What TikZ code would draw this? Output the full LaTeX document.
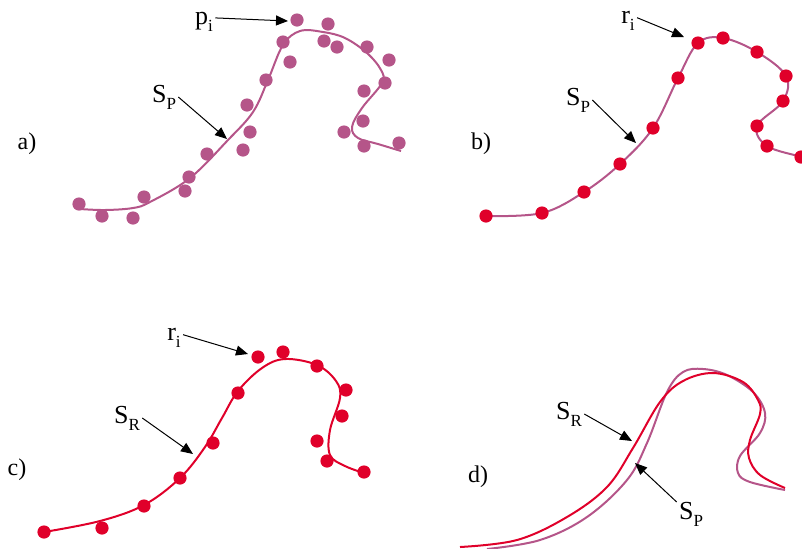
\documentclass[tikz,border=0pt]{standalone}
\usepackage{fontspec}
\setmainfont{Liberation Serif}
\usetikzlibrary{arrows.meta}
\definecolor{mauve}{RGB}{181,85,137}
\definecolor{crimson}{RGB}{224,0,42}
\newcommand{\sublbl}[2]{#1\raisebox{-3.5pt}{\fontsize{8.5}{9}\selectfont #2}}
\begin{document}
\begin{tikzpicture}[x=0.5pt,y=-0.5pt,
  curveP/.style={draw=mauve,line width=1pt},
  curveR/.style={draw=crimson,line width=1pt},
  dotP/.style={fill=mauve},
  dotR/.style={fill=crimson},
  pointer/.style={-{Triangle[length=6pt,width=5pt]},line width=0.5pt},
  lbl/.style={inner sep=1pt,font=\fontsize{13}{15}\selectfont},
  tag/.style={inner sep=0pt,font=\fontsize{12}{14}\selectfont}]
\useasboundingbox (0,0) rectangle (802,548);
% a) noisy points and fitted curve
\draw[curveP] plot[smooth,tension=0.6] coordinates {(80,209) (105,210) (133,208) (150,202) (190,178) (228,140) (253,112) (268,80) (283,45) (300,31) (323,32) (345,38) (367,53) (381,70) (382,83) (362,108) (352,127) (358,138) (378,144) (401,151)};
\foreach \p in {(79,204),(102,216),(133,218),(144,197),(185,191),(189,177),(207,154),(243,150),(250,132),(247,105),(266,80),(290,62),(283,42),(297,20),(328,24),(324,41),(337,47),(367,47),(389,60),(385,83),(364,91),(363,121),(344,132),(364,146),(399,143)}
  \fill[dotP] \p circle[radius=3.3pt];
\node[tag] (ta) at (27,144) {a)};
\node[lbl] (pi) at (204,22) {\sublbl{p}{i}};
\coordinate (pitip) at (288,21);
\draw[pointer] (pi.20) -- (pitip);
\node[lbl] (spa) at (164,97) {\sublbl{S}{P}};
\coordinate (spatip) at (227,139);
\draw[pointer] (spa.east) -- (spatip);
% b) resampled points on the curve
\draw[curveP] plot[smooth,tension=0.6] coordinates {(486,216) (542,213) (584,192) (620,164) (653,128) (678,78) (698,43) (723,38) (757,52) (786,76) (783,101) (757,126) (767,146) (802,157) (815,161)};
\foreach \p in {(486,216),(542,213),(584,192),(620,164),(653,128),(678,78),(698,43),(723,38),(757,52),(786,76),(783,101),(757,126),(767,146),(801,157)}
  \fill[dotR] \p circle[radius=3.3pt];
\node[tag] (tb) at (481,144) {b)};
\node[lbl] (rib) at (628,21) {\sublbl{r}{i}};
\coordinate (ribtip) at (684,37);
\draw[pointer] (rib.20) -- (ribtip);
\node[lbl] (spb) at (578,100) {\sublbl{S}{P}};
\coordinate (spbtip) at (636,143);
\draw[pointer] (spb.east) -- (spbtip);
% c) curve fitted to the resampled points
\draw[curveR] plot[smooth,tension=0.6] coordinates {(44,532) (100,521) (144,505) (180,478) (205,447) (222,418) (238,391) (262,368) (285,359) (317,365) (336,381) (340,398) (330,430) (330,455) (345,466) (364,473)};
\foreach \p in {(44,532),(102,528),(144,506),(180,478),(213,443),(238,393),(258,357),(283,352),(317,366),(346,390),(342,416),(317,441),(327,461),(364,472)}
  \fill[dotR] \p circle[radius=3.3pt];
\node[tag] (tc) at (17,470) {c)};
\node[lbl] (ric) at (174,338) {\sublbl{r}{i}};
\coordinate (rictip) at (248,354);
\draw[pointer] (ric.20) -- (rictip);
\node[lbl] (src) at (127,418) {\sublbl{S}{R}};
\coordinate (srctip) at (193,454);
\draw[pointer] (src.east) -- (srctip);
% d) both curves overlaid
\draw[curveP] plot[smooth,tension=0.6] coordinates {(487,549) (540,540) (587,517) (627,480) (647,443) (667,392) (683,372) (703,369) (727,375) (753,392) (765,413) (760,433) (740,456) (738,473) (750,482) (785,490)};
\draw[curveR] plot[smooth,tension=0.6] coordinates {(460,547) (517,540) (567,517) (607,487) (633,448) (660,402) (683,381) (713,373) (743,382) (758,400) (760,414) (750,440) (749,458) (760,475) (785,488)};
\node[tag] (td) at (478,477) {d)};
\node[lbl] (srd) at (569,414) {\sublbl{S}{R}};
\coordinate (srdtip) at (632,441);
\draw[pointer] (srd.east) -- (srdtip);
\node[lbl] (spd) at (691,514) {\sublbl{S}{P}};
\coordinate (spdtip) at (635,463);
\draw[pointer] (spd.140) -- (spdtip);
\end{tikzpicture}
\end{document}
